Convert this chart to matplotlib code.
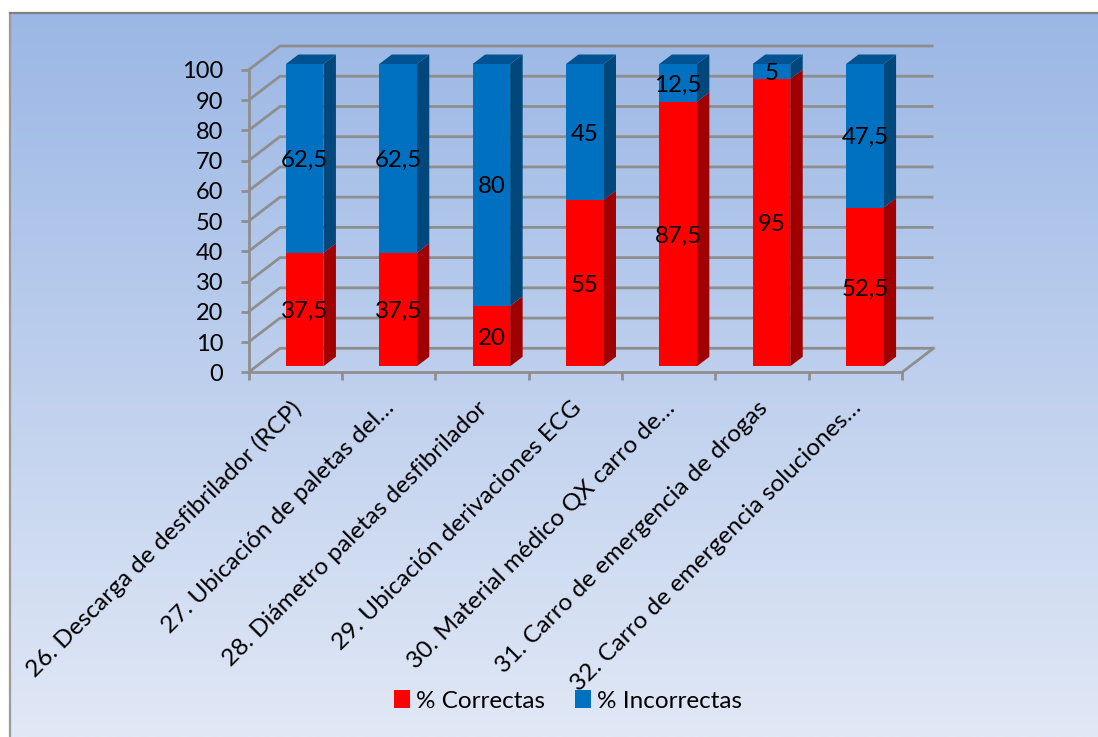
import numpy as np
import matplotlib
matplotlib.use("Agg")
import matplotlib.pyplot as plt
from matplotlib.colors import LinearSegmentedColormap
from matplotlib.patches import Polygon, Rectangle
from matplotlib.transforms import ScaledTranslation

# Survey results per question
categories = [
    "26. Descarga de desfibrilador (RCP)",
    "27. Ubicación de paletas del…",
    "28. Diámetro paletas desfibrilador",
    "29. Ubicación derivaciones ECG",
    "30. Material médico QX carro de…",
    "31. Carro de emergencia de drogas",
    "32. Carro de emergencia soluciones…",
]
correctas = [37.5, 37.5, 20, 55, 87.5, 95, 52.5]
incorrectas = [62.5, 62.5, 80, 45, 12.5, 5, 47.5]
value_labels_c = ["37,5", "37,5", "20", "55", "87,5", "95", "52,5"]
value_labels_i = ["62,5", "62,5", "80", "45", "12,5", "5", "47,5"]
y_ticks = list(range(0, 101, 10))

W, H = 1098, 737
plt.rcParams["font.family"] = ["Lato", "DejaVu Sans"]
fig = plt.figure(figsize=(W / 100, H / 100), dpi=100, facecolor="white")

# Chart-area panel with a vertical gradient; it runs off the right and bottom edges
bg = fig.add_axes([9.5 / W, 0, (W - 9.5) / W, 1 - 13 / H], zorder=0)
cmap = LinearSegmentedColormap.from_list("panel", ["#9BB7E5", "#E1E8F6"])
bg.imshow(np.linspace(0, 1, 256)[:, None], aspect="auto", cmap=cmap, extent=(0, 1, 0, 1))
bg.set_xticks([])
bg.set_yticks([])
bg.spines["right"].set_visible(False)
bg.spines["bottom"].set_visible(False)
bg.spines["top"].set_color("#7F7F7F")
bg.spines["top"].set_linewidth(1.6)
bg.spines["left"].set_color("#9A9A9A")
bg.spines["left"].set_linewidth(1.6)

# Front plane of the pseudo-3D plot, placed in figure pixels
left, right, y0, y100 = 248.5, 902.0, 372.3, 70.0
ax = fig.add_axes([left / W, 1 - y0 / H, (right - left) / W, (y0 - y100) / H], zorder=1)
ax.patch.set_alpha(0)
ax.set_xlim(0, len(categories))
ax.set_ylim(0, 100)

px_x = len(categories) / (right - left)
px_y = 100 / (y0 - y100)
wall_dx, wall_dy = 31.5 * px_x, 24 * px_y      # depth of the plot box
bar_dx, bar_dy = 12.5 * px_x, 9.5 * px_y       # depth of one bar
off_x, off_y = 9.5 * px_x, 6.0 * px_y          # bar front relative to box front
bar_w = 37.5 * px_x

GRID = "#8E8E8E"
LW = 2.0
n = len(categories)

# Back-wall gridlines and their slanted side-wall continuations
for t in y_ticks:
    ax.plot([0, wall_dx, n + wall_dx], [t, t + wall_dy, t + wall_dy],
            color=GRID, lw=LW, clip_on=False, zorder=1, solid_capstyle="butt")
ax.plot([n, n + wall_dx], [0, wall_dy], color=GRID, lw=LW, clip_on=False, zorder=1)


def draw_segment(x, base, height, front, side, top, label):
    xl = x - bar_w / 2 + off_x
    xr = xl + bar_w
    b = base + off_y
    t = base + height + off_y
    ax.add_patch(Polygon([(xr, b), (xr + bar_dx, b + bar_dy), (xr + bar_dx, t + bar_dy), (xr, t)],
                         fc=side, ec="none", clip_on=False, zorder=3))
    ax.add_patch(Rectangle((xl, b), bar_w, height, fc=front, ec="none", clip_on=False, zorder=3))
    if top:
        ax.add_patch(Polygon([(xl, t), (xr, t), (xr + bar_dx, t + bar_dy), (xl + bar_dx, t + bar_dy)],
                             fc=top, ec="none", clip_on=False, zorder=3))
    ax.text((xl + xr) / 2, b + height / 2 - 2 * px_y, label, ha="center", va="center",
            fontsize=17.3, color="black", clip_on=False, zorder=5)


for i in range(n):
    cx = i + 0.5
    draw_segment(cx, 0, correctas[i], "#FF0000", "#A00000", None, value_labels_c[i])
    draw_segment(cx, correctas[i], incorrectas[i], "#0070C0", "#00477C", "#005392", value_labels_i[i])

# Axes, ticks and labels
for s in ("top", "right"):
    ax.spines[s].set_visible(False)
for s in ("left", "bottom"):
    ax.spines[s].set_color(GRID)
    ax.spines[s].set_linewidth(LW)
    ax.spines[s].set_zorder(2)
ax.set_yticks(y_ticks)
ax.set_xticks(np.arange(n + 1))
ax.set_xticklabels([])
ax.set_xticks(np.arange(n) + 0.5, minor=True)
ax.set_xticklabels(categories, minor=True, rotation=45, ha="right", rotation_mode="anchor",
                   fontsize=17.6)
ax.tick_params(axis="x", which="major", length=6, width=LW, color=GRID)
ax.tick_params(axis="x", which="minor", length=0, pad=18)
ax.tick_params(axis="y", length=6, width=LW, color=GRID, labelsize=17, pad=12)
label_shift = ScaledTranslation(-5 / 100, 0, fig.dpi_scale_trans)
for lab in ax.get_xticklabels(minor=True):
    lab.set_transform(lab.get_transform() + label_shift)

# Legend
handles = [Rectangle((0, 0), 1, 1, fc="#FF0000"), Rectangle((0, 0), 1, 1, fc="#0070C0")]
fig.legend(handles, ["% Correctas", "% Incorrectas"], ncol=2, frameon=False, fontsize=17.5,
           loc="center", bbox_to_anchor=(568 / W, 1 - 701 / H), handlelength=0.66, handleheight=0.7,
           handletextpad=0.28, columnspacing=1.2)

fig.savefig("out.png", dpi=100)
